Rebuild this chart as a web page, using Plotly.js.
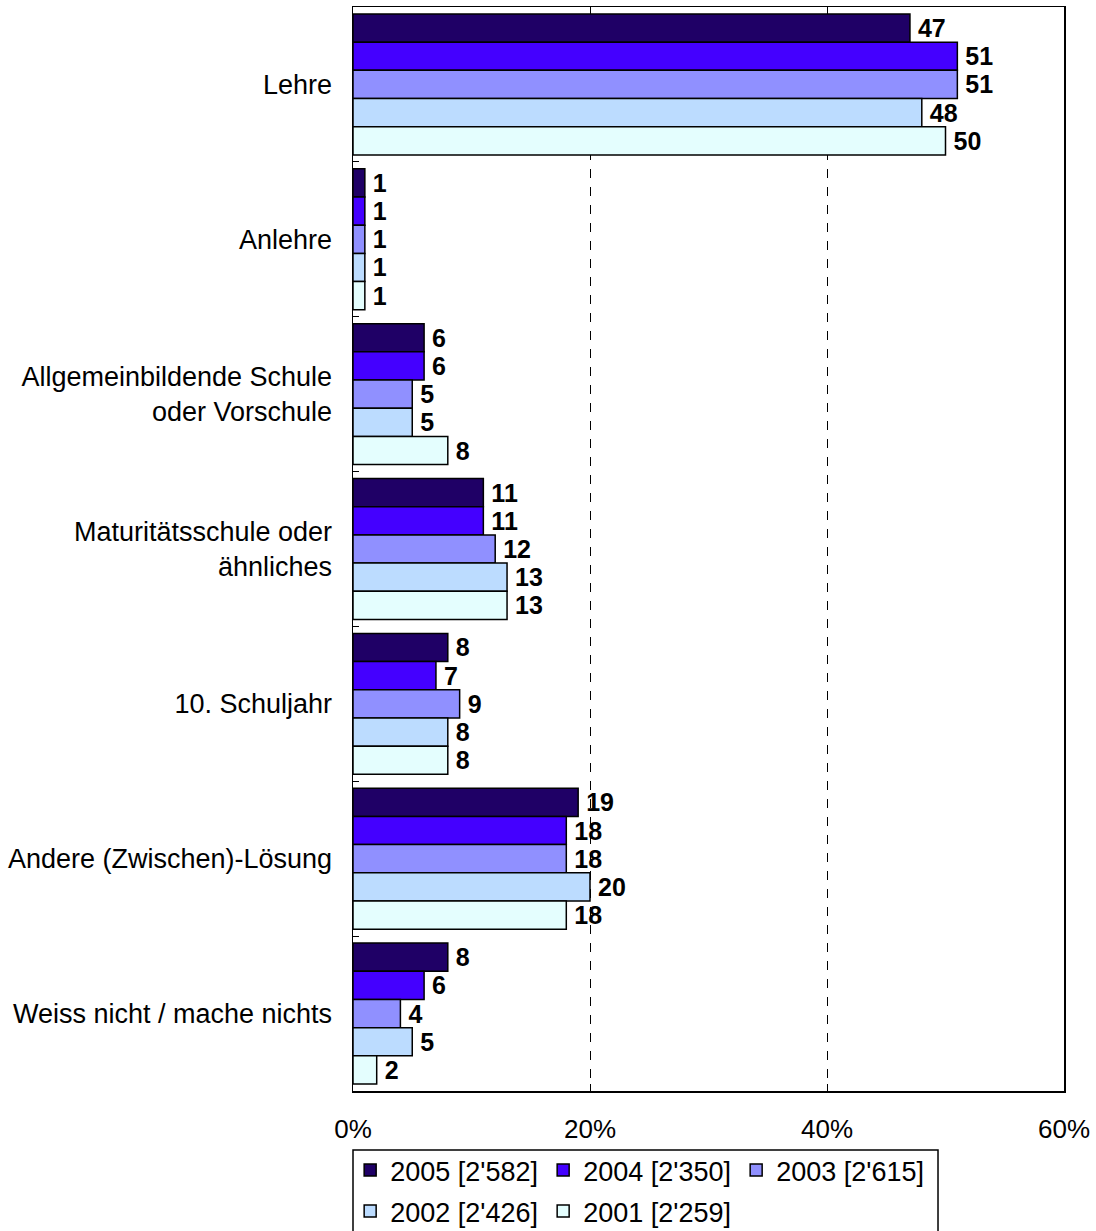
<!DOCTYPE html>
<html>
<head>
<meta charset="utf-8">
<script src="https://cdn.plot.ly/plotly-3.0.1.min.js"></script>
<style>html,body{margin:0;padding:0;background:#fff}#chart{width:1096px;height:1231px}</style>
</head>
<body>
<div id="chart"></div>
<script>
const categories = ["Lehre", "Anlehre", "Allgemeinbildende Schule<br>oder Vorschule", "Maturitätsschule oder<br>ähnliches", "10. Schuljahr", "Andere (Zwischen)-Lösung", "Weiss nicht / mache nichts"];
const seriesNames = ["2005 [2'582]", "2004 [2'350]", "2003 [2'615]", "2002 [2'426]", "2001 [2'259]"];
const v2005 = [47, 1, 6, 11, 8, 19, 8];
const v2004 = [51, 1, 6, 11, 7, 18, 6];
const v2003 = [51, 1, 5, 12, 9, 18, 4];
const v2002 = [48, 1, 5, 13, 8, 20, 5];
const v2001 = [50, 1, 8, 13, 8, 18, 2];
const xTicks = [0, 20, 40, 60];
const xTickLabels = ["0%", "20%", "40%", "60%"];

const colors = ["#1f0066", "#4400ff", "#9090ff", "#bcdcff", "#e4fefe"];
const allValues = [v2005, v2004, v2003, v2002, v2001];
const FONT = 'Liberation Sans, Arial, sans-serif';

const traces = allValues.map((vals, i) => ({
  type: 'bar',
  orientation: 'h',
  name: seriesNames[i],
  legend: i < 3 ? 'legend' : 'legend2',
  y: categories,
  x: vals,
  text: vals.map(v => '\u2009' + Math.round(v)),
  textposition: 'outside',
  textfont: {family: FONT, size: 25, color: '#000', weight: 'bold'},
  cliponaxis: false,
  marker: {color: colors[i], line: {color: '#000', width: 1.5}},
  hoverinfo: 'x+y'
}));

const legendCommon = {
  orientation: 'h',
  x: -0.004, xanchor: 'left',
  yanchor: 'top',
  bgcolor: 'rgba(0,0,0,0)', borderwidth: 0,
  font: {family: FONT, size: 27, color: '#000'},
  traceorder: 'normal',
  entrywidth: 148,
  itemwidth: 30
};

const layout = {
  width: 1096, height: 1231,
  margin: {l: 353, r: 32, t: 7, b: 140, autoexpand: false},
  paper_bgcolor: '#fff', plot_bgcolor: '#fff',
  font: {family: FONT, size: 26, color: '#000'},
  barmode: 'group',
  bargap: 0.09,
  bargroupgap: 0,
  showlegend: true,
  xaxis: {
    range: [0, 60],
    tickvals: xTicks,
    ticktext: xTickLabels,
    showgrid: true,
    gridcolor: '#000', gridwidth: 1, griddash: 'dash',
    zeroline: false,
    showline: true, linecolor: '#000', linewidth: 1.5,
    mirror: 'ticks',
    ticks: 'inside', ticklen: 7, tickcolor: '#000',
    tickfont: {family: FONT, size: 26},
    ticklabelstandoff: 14
  },
  yaxis: {
    autorange: 'reversed',
    showline: true, linecolor: '#000', linewidth: 1.5,
    mirror: true,
    ticks: 'inside', ticklen: 6, tickcolor: '#000',
    tickson: 'boundaries',
    showgrid: false,
    tickfont: {family: FONT, size: 27},
    ticklabelstandoff: 14
  },
  legend: Object.assign({}, legendCommon, {y: -0.0507}),
  legend2: Object.assign({}, legendCommon, {y: -0.0886}),
  shapes: [{
    type: 'rect', xref: 'paper', yref: 'paper',
    x0: 0, x1: 0.8228, y0: -0.0544, y1: -0.16,
    line: {color: '#000', width: 1.5},
    fillcolor: 'rgba(0,0,0,0)',
    layer: 'above'
  }]
};

Plotly.newPlot('chart', traces, layout, {displayModeBar: false, staticPlot: true});
</script>
</body>
</html>
